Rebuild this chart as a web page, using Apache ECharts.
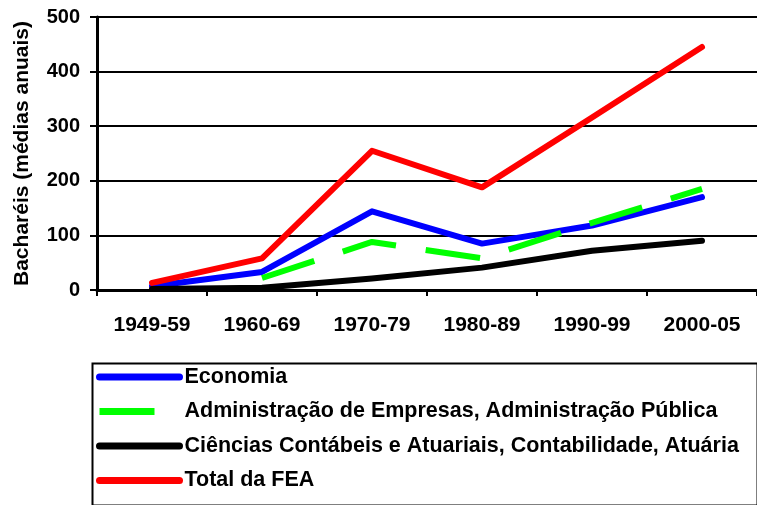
<!DOCTYPE html>
<html>
<head>
<meta charset="utf-8">
<script src="https://cdn.jsdelivr.net/npm/echarts@6/dist/echarts.min.js"></script>
<style>
  html, body { margin: 0; padding: 0; background: #fff; }
  #chart { width: 757px; height: 505px; }
</style>
</head>
<body>
<div id="chart"></div>
<script>
var categories = ['1949-59', '1960-69', '1970-79', '1980-89', '1990-99', '2000-05'];
var economia = [7, 33, 144, 85, 118, 170];
var administracao = [null, 22, 88, 58, 123, 185];
var contabeis = [2, 4, 21, 41, 72, 90];
var totalFea = [13, 58, 255, 188, 316, 445];
var yTicks = [0, 100, 200, 300, 400, 500];

var font = 'Liberation Sans, Arial, sans-serif';
var myChart = echarts.init(document.getElementById('chart'));

function solidLine(name, data, color) {
  return {
    name: name,
    type: 'line',
    data: data,
    symbol: 'none',
    lineStyle: { color: color, width: 6, cap: 'round', join: 'round' },
    itemStyle: { color: color }
  };
}

var option = {
  animation: false,
  backgroundColor: '#fff',
  grid: { left: 97, top: 17, height: 273, width: 672 },
  xAxis: {
    type: 'category',
    data: categories,
    boundaryGap: true,
    axisLine: { lineStyle: { color: '#000', width: 3 } },
    axisTick: { show: true, length: 6, lineStyle: { color: '#000', width: 2 } },
    axisLabel: { color: '#000', fontFamily: font, fontWeight: 'bold', fontSize: 21, margin: 25 }
  },
  yAxis: {
    type: 'value',
    min: yTicks[0],
    max: yTicks[yTicks.length - 1],
    interval: 100,
    name: 'Bacharéis (médias anuais)',
    nameLocation: 'middle',
    nameGap: 64,
    nameTextStyle: { color: '#000', fontFamily: font, fontWeight: 'bold', fontSize: 21 },
    axisLine: { show: true, lineStyle: { color: '#000', width: 3 } },
    axisTick: { show: true, length: 7, lineStyle: { color: '#000', width: 2 } },
    axisLabel: { color: '#000', fontFamily: font, fontWeight: 'bold', fontSize: 20, margin: 17 },
    splitLine: { show: true, lineStyle: { color: '#000', width: 2 } }
  },
  legend: {
    orient: 'vertical',
    left: 96,
    top: 366,
    padding: 0,
    itemWidth: 80,
    itemHeight: 8,
    itemGap: 12.5,
    itemStyle: { opacity: 0 },
    lineStyle: { width: 7, cap: 'round' },
    textStyle: { color: '#000', fontFamily: font, fontWeight: 'bold', fontSize: 21.5, lineHeight: 20 },
    data: [
      { name: 'Economia' },
      { name: 'Administração de Empresas, Administração Pública', lineStyle: { width: 7, cap: 'butt' } },
      { name: 'Ciências Contábeis e Atuariais, Contabilidade, Atuária' },
      { name: 'Total da FEA' }
    ]
  },
  graphic: [{
    type: 'rect',
    left: 90,
    top: 361,
    shape: { width: 665, height: 142 },
    style: { fill: 'none', stroke: '#000', lineWidth: 2 },
    silent: true
  }],
  series: [
    solidLine('Economia', economia, '#0000ff'),
    {
      name: 'Administração de Empresas, Administração Pública',
      type: 'line',
      data: administracao,
      symbol: 'none',
      lineStyle: { color: '#00ff00', width: 6, type: [55, 30], cap: 'butt' },
      itemStyle: { color: '#00ff00' }
    },
    solidLine('Ciências Contábeis e Atuariais, Contabilidade, Atuária', contabeis, '#000000'),
    solidLine('Total da FEA', totalFea, '#ff0000')
  ]
};

myChart.setOption(option, true);
</script>
</body>
</html>
